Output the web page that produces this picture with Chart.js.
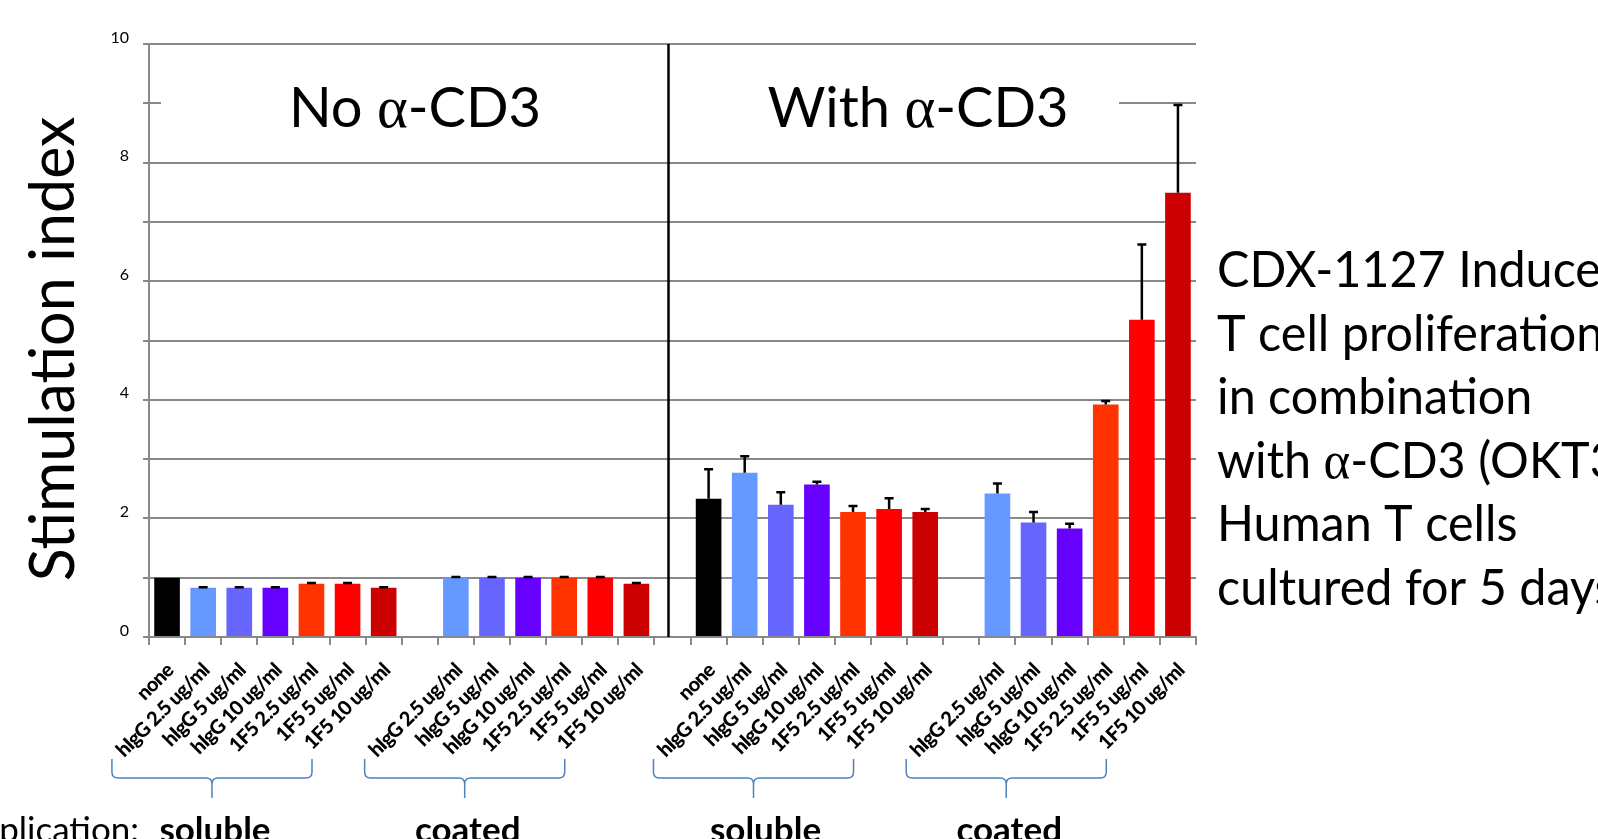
<!DOCTYPE html>
<html>
<head>
<meta charset="utf-8">
<script src="https://cdn.jsdelivr.net/npm/chart.js@4.4.1/dist/chart.umd.min.js"></script>
<style>
  html, body { margin: 0; padding: 0; background: #fff; overflow: hidden; }
</style>
</head>
<body>
<canvas id="chart" width="1598" height="839"></canvas>
<script>
// Treatments, in the order they appear inside each group
const treatments = ['none', 'hIgG 2.5 ug/ml', 'hIgG 5 ug/ml', 'hIgG 10 ug/ml', '1F5 2.5 ug/ml', '1F5 5 ug/ml', '1F5 10 ug/ml'];
const treatmentColors = ['#000000', '#6699FF', '#6666FF', '#6600FF', '#FF3300', '#FF0000', '#CC0000'];

// No anti-CD3
const noCd3Soluble    = [1.00, 0.83, 0.83, 0.83, 0.90, 0.90, 0.83];
const noCd3SolubleErr = [0.00, 0.01, 0.01, 0.01, 0.01, 0.01, 0.01];
const noCd3Coated     = [1.00, 1.00, 1.00, 1.00, 1.00, 0.90];   // coated has no 'none'
const noCd3CoatedErr  = [0.01, 0.01, 0.01, 0.01, 0.01, 0.01];

// With anti-CD3
const cd3Soluble    = [2.33, 2.77, 2.23, 2.57, 2.11, 2.16, 2.11];
const cd3SolubleErr = [0.50, 0.28, 0.21, 0.05, 0.10, 0.18, 0.05];
const cd3Coated     = [2.42, 1.93, 1.83, 3.92, 5.35, 7.49];
const cd3CoatedErr  = [0.17, 0.18, 0.08, 0.06, 1.27, 1.48];

const yTicks = [0, 2, 4, 6, 8, 10];
const panelTitles = ['No ', '-CD3', 'With '];
const noteLines = [
  [['CDX-1127 Induces']],
  [['T cell proliferation']],
  [['in combination']],
  [['with '], ['\u03b1', true], ['-CD3 (OKT3)']],
  [['Human T cells']],
  [['cultured for 5 days']]
];

// Build the flat category list (gaps between groups are empty categories)
const labels = [], values = [], errors = [], colors = [], groups = [];
let dividerIndex = -1;
function pushGroup(name, vals, errs, from) {
  const start = labels.length;
  vals.forEach((v, i) => {
    labels.push(treatments[from + i]);
    values.push(v);
    errors.push(errs[i]);
    colors.push(treatmentColors[from + i]);
  });
  groups.push({ name, start, end: labels.length - 1 });
}
function pushGap() {
  labels.push('');
  values.push(null);
  errors.push(0);
  colors.push('#ffffff');
  return labels.length - 1;
}
pushGroup('soluble', noCd3Soluble, noCd3SolubleErr, 0);
pushGap();
pushGroup('coated', noCd3Coated, noCd3CoatedErr, 1);
dividerIndex = pushGap();
pushGroup('soluble', cd3Soluble, cd3SolubleErr, 0);
pushGap();
pushGroup('coated', cd3Coated, cd3CoatedErr, 1);

const FONT = 'Lato';
const SERIF = '"Liberation Serif"';
const GRID = '#898989';

// draw a line of text where some parts (the alpha) use a serif face
function drawRich(ctx, parts, x, y, size, align, squeeze) {
  const sx = squeeze || 1;
  const fonts = parts.map(p => p[1] ? `${size * 1.05}px ${SERIF}` : `${size}px ${FONT}`);
  let total = 0;
  const widths = parts.map((p, i) => { ctx.font = fonts[i]; const w = ctx.measureText(p[0]).width; total += w; return w; });
  ctx.save();
  ctx.translate(align === 'center' ? x - total * sx / 2 : x, y);
  ctx.scale(sx, 1);
  ctx.textAlign = 'left';
  let cx = 0;
  parts.forEach((p, i) => { ctx.font = fonts[i]; ctx.fillText(p[0], cx, 0); cx += widths[i]; });
  ctx.restore();
}

const decor = {
  id: 'decor',
  beforeDatasetsDraw(chart) {
    // white text boxes of the panel titles hide the 9 gridline
    const { ctx, chartArea, scales: { x, y } } = chart;
    const div = x.getPixelForValue(dividerIndex) - 4;
    const t = y.getPixelForValue(9.6), h = y.getPixelForValue(8.3) - t;
    ctx.save();
    ctx.fillStyle = '#ffffff';
    ctx.fillRect(chartArea.left + 12, t, div - chartArea.left - 12, h);
    ctx.fillRect(div, t, 1119 - div, h);
    ctx.restore();
  },
  afterDatasetsDraw(chart) {
    const { ctx, scales: { x, y } } = chart;
    const meta = chart.getDatasetMeta(0);
    ctx.save();
    ctx.strokeStyle = '#000';
    ctx.lineWidth = 2.5;
    meta.data.forEach((bar, i) => {
      if (values[i] == null || errors[i] <= 0) return;
      const top = y.getPixelForValue(values[i]);
      const end = y.getPixelForValue(values[i] + errors[i]);
      ctx.beginPath();
      ctx.moveTo(bar.x, top);
      ctx.lineTo(bar.x, end);
      ctx.moveTo(bar.x - 4.5, end);
      ctx.lineTo(bar.x + 4.5, end);
      ctx.stroke();
    });
    // divider between the two panels
    const div = x.getPixelForValue(dividerIndex) - 4;
    ctx.beginPath();
    ctx.moveTo(div, y.getPixelForValue(10));
    ctx.lineTo(div, y.getPixelForValue(0));
    ctx.stroke();
    ctx.restore();
  },
  afterDraw(chart) {
    const { ctx, scales: { x, y } } = chart;
    ctx.save();
    ctx.fillStyle = '#000';
    ctx.textBaseline = 'alphabetic';

    // y axis title
    ctx.save();
    ctx.translate(74, 349);
    ctx.rotate(-Math.PI / 2);
    ctx.font = `61px ${FONT}`;
    ctx.textAlign = 'center';
    ctx.fillText('Stimulation index', 0, 0);
    ctx.restore();

    // panel titles
    drawRich(ctx, [[panelTitles[0]], ['\u03b1', true], [panelTitles[1]]], 415, 127, 56, 'center');
    drawRich(ctx, [[panelTitles[2]], ['\u03b1', true], [panelTitles[1]]], 918, 127, 56, 'center');

    // rotated category labels
    const labelSize = 20;
    ctx.font = `900 ${labelSize}px ${FONT}`;
    ctx.letterSpacing = '-0.7px';
    const bottomLeft = [];
    labels.forEach((lab, i) => {
      if (!lab) return;
      const px = x.getPixelForValue(i) + 3;
      const py = 667;
      ctx.save();
      ctx.translate(px, py);
      ctx.rotate(-Math.PI / 4);
      ctx.textAlign = 'right';
      ctx.textBaseline = 'middle';
      ctx.fillText(lab, 0, 0);
      ctx.restore();
      const w = ctx.measureText(lab).width;
      bottomLeft[i] = px - (w + labelSize * 0.55) * Math.SQRT1_2;
    });
    ctx.letterSpacing = '0px';

    // group brackets and names
    ctx.strokeStyle = '#4F81BD';
    ctx.lineWidth = 1.5;
    const top = 759, mid = 778, tip = 798, r = 6;
    groups.forEach((g, k) => {
      let L = Infinity, R = -Infinity;
      for (let i = g.start; i <= g.end; i++) { L = Math.min(L, bottomLeft[i]); R = Math.max(R, bottomLeft[i]); }
      R += 12;
      const C = (L + R) / 2;
      ctx.beginPath();
      ctx.moveTo(L, top);
      ctx.lineTo(L, mid - r);
      ctx.quadraticCurveTo(L, mid, L + r, mid);
      ctx.lineTo(C - r, mid);
      ctx.quadraticCurveTo(C, mid, C, mid + r);
      ctx.lineTo(C, tip);
      ctx.moveTo(C, mid + r);
      ctx.quadraticCurveTo(C, mid, C + r, mid);
      ctx.lineTo(R - r, mid);
      ctx.quadraticCurveTo(R, mid, R, mid - r);
      ctx.lineTo(R, top);
      ctx.stroke();
      ctx.font = `bold 35px ${FONT}`;
      ctx.textAlign = 'center';
      ctx.fillText(g.name, C + (k === 2 ? 12 : 3), 842);
    });
    ctx.font = `35px ${FONT}`;
    ctx.textAlign = 'right';
    ctx.fillText('Application:', 139, 842);

    // note on the right
    noteLines.forEach((parts, k) => drawRich(ctx, parts, 1217, 287 + k * 63.6, 50, 'left', 0.97));
    ctx.restore();
  }
};

new Chart(document.getElementById('chart'), {
  type: 'bar',
  data: {
    labels,
    datasets: [{
      data: values,
      backgroundColor: colors,
      borderWidth: 0,
      barPercentage: 0.71,
      categoryPercentage: 1.0
    }]
  },
  options: {
    responsive: false,
    animation: false,
    layout: { padding: { top: 44, right: 402, bottom: 0, left: 0 } },
    plugins: { legend: { display: false }, tooltip: { enabled: false } },
    scales: {
      x: {
        offset: true,
        grid: { offset: true, drawOnChartArea: false, drawTicks: true, tickLength: 8, color: GRID, lineWidth: 2 },
        border: { color: GRID, width: 2 },
        ticks: { display: false },
        afterFit(scale) { scale.height = 202; }
      },
      y: {
        min: 0,
        max: 10,
        ticks: {
          stepSize: 1,
          color: '#000',
          font: { family: FONT, size: 16 },
          padding: 14,
          labelOffset: -6.5,
          callback: v => yTicks.includes(v) ? String(v) : ''
        },
        grid: { color: GRID, lineWidth: 2, tickLength: 6 },
        border: { color: GRID, width: 2 },
        afterFit(scale) { scale.width = 149; }
      }
    }
  },
  plugins: [decor]
});
</script>
</body>
</html>
